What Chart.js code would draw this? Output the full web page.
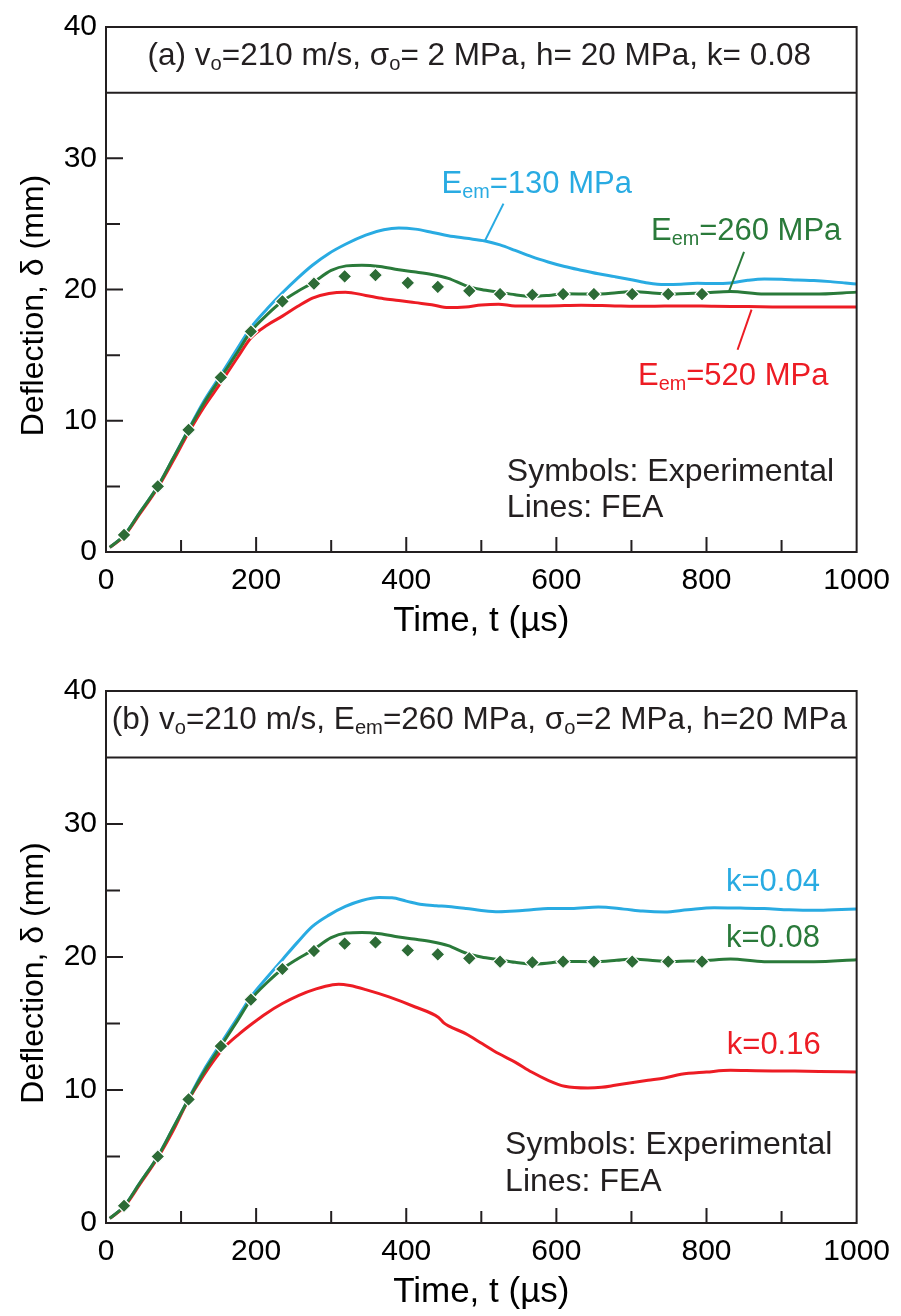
<!DOCTYPE html>
<html>
<head>
<meta charset="utf-8">
<title>Deflection vs time</title>
<script src="https://cdn.jsdelivr.net/npm/chart.js@4.4.1/dist/chart.umd.min.js"></script>
<style>
    body { margin: 0; background: #fff; }
    .panel { width: 901px; height: 658px; }
    canvas { display: block; }
</style>
</head>
<body>
<div class="panel"><canvas id="chartA" width="901" height="658"></canvas></div>
<div class="panel"><canvas id="chartB" width="901" height="658"></canvas></div>
<script>
/**
 * Data (t in µs, deflection in mm)
 */
const X_TICKS = [0, 200, 400, 600, 800, 1000];
const Y_TICKS = [0, 10, 20, 30, 40];

// Experimental points (same test in both panels)
const EXP_T = [24, 69, 110, 153, 193, 235, 277, 318, 359, 402, 442, 484, 525, 568, 609, 650, 701, 749, 794];
const EXP_D = [1.3, 5.0, 9.3, 13.3, 16.8, 19.1, 20.45, 21.0, 21.1, 20.5, 20.2, 19.9, 19.65, 19.6, 19.65, 19.65, 19.65, 19.65, 19.65];

// FEA, E_em = 260 MPa, k = 0.08 (shown in both panels)
const FEA260_T = [5, 24, 45, 69, 90, 110, 130, 153, 175, 193, 215, 235, 255, 275, 300, 320, 341, 365, 390, 410, 434, 456, 479, 500, 523, 545, 568, 590, 609, 650, 680, 701, 725, 749, 775, 794, 832, 877, 943, 1000];
const FEA260_D = [0.35, 1.25, 3.0, 5.0, 7.2, 9.3, 11.3, 13.3, 15.2, 16.8, 18.1, 19.1, 19.85, 20.5, 21.45, 21.8, 21.85, 21.75, 21.5, 21.35, 21.15, 20.85, 20.3, 20.0, 19.8, 19.6, 19.47, 19.55, 19.67, 19.65, 19.75, 19.85, 19.75, 19.65, 19.7, 19.72, 19.85, 19.65, 19.65, 19.8];

// FEA, E_em = 130 MPa
const FEA130_T = [5, 24, 45, 69, 90, 110, 130, 153, 175, 193, 215, 235, 255, 275, 297, 319, 346, 370, 390, 412, 435, 456, 480, 505, 525, 545, 567, 589, 611, 633, 656, 678, 700, 722, 744, 766, 788, 810, 832, 855, 877, 900, 921, 943, 965, 985, 1000];
const FEA130_D = [0.35, 1.25, 3.0, 5.0, 7.2, 9.35, 11.45, 13.5, 15.5, 17.1, 18.55, 19.75, 20.85, 21.85, 22.75, 23.45, 24.15, 24.55, 24.68, 24.6, 24.35, 24.1, 23.9, 23.7, 23.4, 22.98, 22.5, 22.1, 21.75, 21.47, 21.2, 20.98, 20.75, 20.5, 20.38, 20.4, 20.47, 20.45, 20.5, 20.7, 20.8, 20.78, 20.72, 20.68, 20.6, 20.5, 20.42];

// FEA, E_em = 520 MPa
const FEA520_T = [5, 24, 45, 69, 90, 110, 130, 153, 175, 193, 215, 235, 255, 275, 297, 319, 346, 370, 390, 412, 434, 456, 479, 500, 523, 545, 589, 633, 678, 722, 766, 810, 855, 899, 950, 1000];
const FEA520_D = [0.35, 1.2, 2.9, 4.9, 7.0, 9.1, 11.0, 12.9, 14.8, 16.3, 17.3, 17.97, 18.7, 19.35, 19.7, 19.8, 19.55, 19.3, 19.17, 19.0, 18.84, 18.62, 18.67, 18.82, 18.88, 18.75, 18.75, 18.8, 18.75, 18.72, 18.75, 18.72, 18.7, 18.67, 18.67, 18.67];

// FEA, k = 0.04
const K004_T = [5, 24, 45, 69, 90, 110, 130, 153, 175, 193, 215, 235, 255, 275, 297, 319, 341, 364, 381, 400, 421, 440, 456, 480, 500, 523, 545, 567, 589, 620, 656, 690, 715, 744, 775, 810, 845, 877, 910, 943, 970, 1000];
const K004_D = [0.35, 1.25, 3.0, 5.0, 7.2, 9.35, 11.45, 13.5, 15.4, 17.0, 18.5, 19.8, 21.1, 22.3, 23.15, 23.8, 24.25, 24.47, 24.45, 24.2, 23.94, 23.85, 23.8, 23.65, 23.5, 23.4, 23.45, 23.55, 23.64, 23.65, 23.76, 23.6, 23.45, 23.38, 23.55, 23.71, 23.68, 23.64, 23.55, 23.51, 23.55, 23.6];

// FEA, k = 0.16
const K016_T = [5, 24, 45, 69, 90, 107, 130, 156, 178, 195, 213, 235, 257, 280, 302, 310, 325, 346, 377, 412, 443, 450, 457, 479, 501, 523, 545, 567, 589, 611, 642, 660, 678, 700, 722, 744, 766, 800, 832, 866, 899, 950, 1000];
const K016_D = [0.35, 1.2, 2.9, 4.9, 7.0, 8.95, 11.1, 13.1, 14.24, 15.0, 15.74, 16.5, 17.12, 17.6, 17.92, 17.95, 17.85, 17.55, 17.0, 16.24, 15.45, 15.05, 14.8, 14.24, 13.49, 12.74, 12.1, 11.35, 10.73, 10.28, 10.15, 10.2, 10.35, 10.55, 10.73, 10.9, 11.18, 11.35, 11.48, 11.45, 11.43, 11.4, 11.35];

const BLUE = '#29abe2';
const GREEN = '#2a7a3a';
const RED = '#ed1c24';
const INK = '#231f20';
const FONT = '"Liberation Sans", Arial, Helvetica, sans-serif';

/**
 * Zip two arrays into {x, y} points
 */
function zip(ts, ds) {
    return ts.map((t, i) => ({ x: t, y: ds[i] }));
}

/**
 * Draw text with subscript pieces: parts = [[text, isSub], ...]
 */
function drawRich(ctx, parts, x, y, size, color, align) {
    const widthOf = p => {
        ctx.font = (p[1] ? size * 0.64 : size) + 'px ' + FONT;
        return ctx.measureText(p[0]).width;
    };
    const total = parts.reduce((s, p) => s + widthOf(p), 0);
    let cx = align === 'center' ? x - total / 2 : x;
    ctx.fillStyle = color;
    ctx.textAlign = 'left';
    ctx.textBaseline = 'alphabetic';
    parts.forEach(p => {
        const w = widthOf(p);
        ctx.fillText(p[0], cx, p[1] ? y + size * 0.16 : y);
        cx += w;
    });
}

/**
 * Frame, inward ticks, band title, axis titles and annotations
 */
const figurePlugin = {
    id: 'figure',
    afterDraw(chart, args, opts) {
        const { ctx, chartArea: a, scales: { x, y } } = chart;
        ctx.save();

        // inward ticks
        ctx.strokeStyle = INK;
        ctx.lineWidth = 2;
        ctx.beginPath();
        for (let t = 100; t < 1000; t += 100) {
            const px = x.getPixelForValue(t);
            const len = t % 200 === 0 ? 15 : 12;
            ctx.moveTo(px, a.bottom);
            ctx.lineTo(px, a.bottom - len);
        }
        for (let v = 5; v < 35; v += 5) {
            const py = y.getPixelForValue(v);
            const len = v % 10 === 0 ? 17 : 14;
            ctx.moveTo(a.left, py);
            ctx.lineTo(a.left + len, py);
        }
        ctx.stroke();

        // frame and title band
        ctx.strokeRect(a.left, a.top, a.right - a.left, a.bottom - a.top);
        const bandY = y.getPixelForValue(35);
        ctx.beginPath();
        ctx.moveTo(a.left, bandY);
        ctx.lineTo(a.right, bandY);
        ctx.stroke();
        drawRich(ctx, opts.title, (a.left + a.right) / 2 - 2, a.top + 38, 31.5, INK, 'center');

        // axis titles
        ctx.fillStyle = '#000';
        ctx.textAlign = 'center';
        ctx.textBaseline = 'alphabetic';
        ctx.font = '35px ' + FONT;
        ctx.fillText('Time, t (\u00b5s)', (a.left + a.right) / 2, a.bottom + 79);
        ctx.save();
        ctx.font = '32px ' + FONT;
        ctx.translate(43, (a.top + a.bottom) / 2 + 16);
        ctx.rotate(-Math.PI / 2);
        ctx.fillText('Deflection, \u03b4 (mm)', 0, 0);
        ctx.restore();

        // leader lines
        ctx.lineWidth = 2;
        (opts.leaders || []).forEach(l => {
            ctx.strokeStyle = l.color;
            ctx.beginPath();
            ctx.moveTo(x.getPixelForValue(l.from[0]), y.getPixelForValue(l.from[1]));
            ctx.lineTo(x.getPixelForValue(l.to[0]), y.getPixelForValue(l.to[1]));
            ctx.stroke();
        });

        // curve labels and notes
        opts.labels.forEach(l => {
            drawRich(ctx, l.parts, x.getPixelForValue(l.at[0]), y.getPixelForValue(l.at[1]), l.size || 31, l.color);
        });

        ctx.restore();
    }
};

/**
 * Build one panel
 */
function buildPanel(canvasId, lines, topPad, xAxisHeight, figure) {
    const datasets = [{
        label: 'Experimental',
        data: zip(EXP_T, EXP_D),
        showLine: false,
        pointStyle: 'rectRot',
        pointRadius: 7,
        backgroundColor: '#2d6b36',
        borderColor: '#ffffff',
        borderWidth: 1.2,
        order: 0
    }];
    lines.forEach(l => {
        datasets.push({
            label: l.label,
            data: zip(l.t, l.d),
            showLine: true,
            borderColor: l.color,
            borderWidth: 3,
            pointRadius: 0,
            cubicInterpolationMode: 'monotone',
            fill: false,
            order: l.order
        });
    });

    const tickFont = { size: 30, family: FONT };

    return new Chart(document.getElementById(canvasId), {
        type: 'scatter',
        data: { datasets },
        options: {
            responsive: false,
            devicePixelRatio: 1,
            animation: false,
            layout: { padding: { top: topPad, right: 41, left: 0, bottom: 0 } },
            plugins: {
                legend: { display: false },
                tooltip: { enabled: false },
                figure
            },
            scales: {
                x: {
                    type: 'linear',
                    min: 0,
                    max: 1000,
                    grid: { display: false, drawTicks: false },
                    border: { display: false },
                    ticks: {
                        stepSize: 100,
                        autoSkip: false,
                        maxRotation: 0,
                        padding: 11,
                        color: '#000',
                        font: tickFont,
                        callback: v => X_TICKS.includes(v) ? String(v) : ''
                    },
                    afterFit(scale) { scale.height = xAxisHeight; }
                },
                y: {
                    min: 0,
                    max: 40,
                    grid: { display: false, drawTicks: false },
                    border: { display: false },
                    ticks: {
                        stepSize: 5,
                        autoSkip: false,
                        padding: 9,
                        color: '#000',
                        font: tickFont,
                        callback: v => Y_TICKS.includes(v) ? String(v) : ''
                    },
                    afterFit(scale) { scale.width = 106; }
                }
            }
        },
        plugins: [figurePlugin]
    });
}

// Panel (a): effect of E_em
buildPanel('chartA', [
    { label: 'E_em=260 MPa', t: FEA260_T, d: FEA260_D, color: GREEN, order: 1 },
    { label: 'E_em=520 MPa', t: FEA520_T, d: FEA520_D, color: RED, order: 2 },
    { label: 'E_em=130 MPa', t: FEA130_T, d: FEA130_D, color: BLUE, order: 3 }
], 20, 106, {
    title: [['(a) v', 0], ['o', 1], ['=210 m/s, \u03c3', 0], ['o', 1], ['= 2 MPa, h= 20 MPa, k= 0.08', 0]],
    leaders: [
        { from: [529.5, 26.54], to: [505, 23.73], color: BLUE },
        { from: [850, 22.86], to: [830, 19.85], color: GREEN },
        { from: [860, 18.47], to: [841.4, 15.41], color: RED }
    ],
    labels: [
        { parts: [['E', 0], ['em', 1], ['=130 MPa', 0]], at: [447, 27.38], color: BLUE },
        { parts: [['E', 0], ['em', 1], ['=260 MPa', 0]], at: [726, 23.78], color: GREEN },
        { parts: [['E', 0], ['em', 1], ['=520 MPa', 0]], at: [708.7, 12.7], color: RED },
        { parts: [['Symbols: Experimental', 0]], at: [534, 5.44], color: INK, size: 32 },
        { parts: [['Lines: FEA', 0]], at: [534, 2.63], color: INK, size: 32 }
    ]
});

// Panel (b): effect of k
buildPanel('chartB', [
    { label: 'k=0.08', t: FEA260_T, d: FEA260_D, color: GREEN, order: 1 },
    { label: 'k=0.16', t: K016_T, d: K016_D, color: RED, order: 2 },
    { label: 'k=0.04', t: K004_T, d: K004_D, color: BLUE, order: 3 }
], 33, 93, {
    title: [['(b) v', 0], ['o', 1], ['=210 m/s, E', 0], ['em', 1], ['=260 MPa, \u03c3', 0], ['o', 1], ['=2 MPa, h=20 MPa', 0]],
    labels: [
        { parts: [['k=0.04', 0]], at: [826, 25.0], color: BLUE },
        { parts: [['k=0.08', 0]], at: [826, 20.75], color: GREEN },
        { parts: [['k=0.16', 0]], at: [827, 12.74], color: RED },
        { parts: [['Symbols: Experimental', 0]], at: [531.7, 5.2], color: INK, size: 32 },
        { parts: [['Lines: FEA', 0]], at: [531.7, 2.4], color: INK, size: 32 }
    ]
});
</script>
</body>
</html>
